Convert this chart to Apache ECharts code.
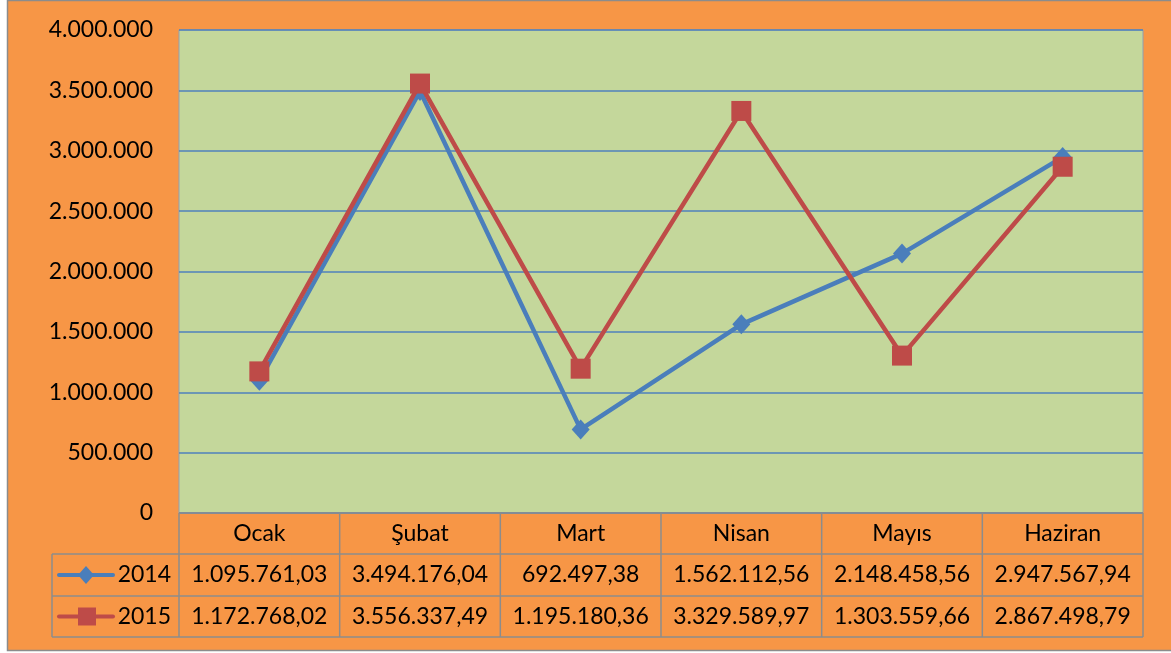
<!DOCTYPE html>
<html><head><meta charset="utf-8">
<script src="https://cdn.jsdelivr.net/npm/echarts@6/dist/echarts.min.js"></script>
<style>html,body{margin:0;padding:0;background:#fff}#c{width:1171px;height:653px}</style>
</head><body><div id="c"></div>
<script>
const categories = ['Ocak','Şubat','Mart','Nisan','Mayıs','Haziran'];
const seriesNames = ['2014','2015'];
const values2014 = [1095761.03, 3494176.04, 692497.38, 1562112.56, 2148458.56, 2947567.94];
const values2015 = [1172768.02, 3556337.49, 1195180.36, 3329589.97, 1303559.66, 2867498.79];
const yTicks = [0, 500000, 1000000, 1500000, 2000000, 2500000, 3000000, 3500000, 4000000];

const FONT = 'Lato';
const BLUE = '#4A7EBB', RED = '#BE4B48', BORDER = '#8C8C8C';
const GL = 179, GR = 1143, GT = 30, GB = 513;
const R1 = 554, R2 = 596, R3 = 637, LEGX = 52;

function trNum(v, dec) {
  const s = v.toFixed(dec);
  const parts = s.split('.');
  const intp = parts[0].replace(/\B(?=(\d{3})+(?!\d))/g, '.');
  return parts.length > 1 ? intp + ',' + parts[1] : intp;
}

const chart = echarts.init(document.getElementById('c'), null, {renderer: 'canvas'});
const lbl = {fontFamily: FONT, fontSize: 23, color: '#000'};

const graphics = [];
graphics.push({type:'rect', z:-10, shape:{x:7.5,y:0.5,width:1170,height:650}, style:{fill:'#F79646', stroke:'#8C8C8C', lineWidth:1.5}});
const lines = [];
function L(x1,y1,x2,y2){ lines.push({type:'line', z:50, shape:{x1,y1,x2,y2}, style:{stroke:BORDER, lineWidth:1.5}}); }
const colW = (GR-GL)/categories.length;
[R1,R2,R3].forEach(y=>L(LEGX,y,GR,y));
L(GL,GB,GR,GB);
L(LEGX,R1,LEGX,R3);
for (let i=0;i<=categories.length;i++){ const x = GL + i*colW; L(x,GB,x,R3); }
graphics.push(...lines);
const rowsY = [(R1+R2)/2, (R2+R3)/2];
const colors = [BLUE, RED];
seriesNames.forEach((n,i)=>{
  const y = rowsY[i];
  graphics.push({type:'line', z:60, shape:{x1:59,y1:y,x2:113,y2:y}, style:{stroke:colors[i], lineWidth:4, lineCap:'round'}});
  if (i===0) graphics.push({type:'polygon', z:61, shape:{points:[[86,y-9],[94,y],[86,y+9],[78,y]]}, style:{fill:BLUE}});
  else graphics.push({type:'rect', z:61, shape:{x:78,y:y-9,width:18,height:18}, style:{fill:RED}});
  graphics.push({type:'text', z:61, style:{text:n, x:171, y:y, align:'right', verticalAlign:'middle', font:'23px '+FONT, fill:'#000'}});
});

chart.setOption({
  animation:false,
  backgroundColor:'transparent',
  grid:{left:GL, right:1171-GR, top:GT, bottom:653-GB, show:true, backgroundColor:'#C4D79B', borderColor:'#8EA0B4', borderWidth:1},
  xAxis:[
    {type:'category', data:categories, boundaryGap:true, axisLine:{show:false}, axisTick:{show:false},
     axisLabel:Object.assign({margin:0, lineHeight:R1-GB, interval:0}, lbl)},
    {type:'category', data:values2014.map(v=>trNum(v,2)), position:'bottom', offset:R1-GB, boundaryGap:true, axisLine:{show:false}, axisTick:{show:false},
     axisLabel:Object.assign({margin:0, lineHeight:R2-R1, interval:0}, lbl)},
    {type:'category', data:values2015.map(v=>trNum(v,2)), position:'bottom', offset:R2-GB, boundaryGap:true, axisLine:{show:false}, axisTick:{show:false},
     axisLabel:Object.assign({margin:0, lineHeight:R3-R2, interval:0}, lbl)}
  ],
  yAxis:{type:'value', min:yTicks[0], max:yTicks[yTicks.length-1], interval:yTicks[1]-yTicks[0],
    axisLine:{show:false}, axisTick:{show:false},
    axisLabel:Object.assign({margin:26, formatter:v=>trNum(v,0)}, lbl),
    splitLine:{show:true, lineStyle:{color:'#4F81BD', width:1.6}}},
  series:[
    {name:seriesNames[0], type:'line', data:values2014, xAxisIndex:0, symbol:'diamond', symbolSize:[18,20], z:3,
     lineStyle:{color:BLUE, width:4.5}, itemStyle:{color:BLUE}},
    {name:seriesNames[1], type:'line', data:values2015, xAxisIndex:0, symbol:'rect', symbolSize:20, z:4,
     lineStyle:{color:RED, width:4.5}, itemStyle:{color:RED}}
  ],
  graphic: graphics
});
</script></body></html>
